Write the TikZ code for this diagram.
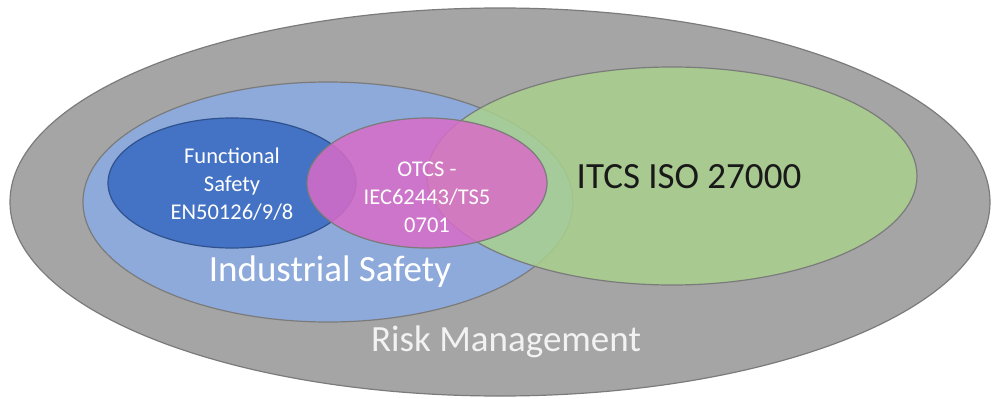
\documentclass[tikz,border=0pt]{standalone}
\usepackage{fontspec}
\setmainfont{Carlito}
\definecolor{rmfill}{HTML}{A5A5A5}
\definecolor{rmedge}{HTML}{7B7B7B}
\definecolor{isfill}{HTML}{8EAADB}
\definecolor{fsfill}{HTML}{4472C4}
\definecolor{fsedge}{HTML}{2F528F}
\definecolor{otfill}{HTML}{D96CC8}
\definecolor{itfill}{HTML}{A9D18E}
\definecolor{labelgray}{HTML}{F2F2F2}
\begin{document}
\begin{tikzpicture}[x=1pt,y=-1pt,
  area/.style={draw=rmedge, line width=1.2pt},
  small/.style={font=\fontsize{22.5}{28}\selectfont, text=white, align=center},
  big/.style={font=\fontsize{37}{44}\selectfont}]
\useasboundingbox (0,0) rectangle (994,399);
% risk management (outer)
\draw[area, fill=rmfill] (500,202) ellipse [x radius=490, y radius=194];
% industrial safety
\draw[area, fill=isfill] (328,202) ellipse [x radius=245, y radius=120];
% functional safety
\draw[area, draw=fsedge, fill=fsfill] (232,183) ellipse [x radius=124, y radius=65];
% IT cyber security
\draw[area, fill=itfill, fill opacity=0.85] (672,176) ellipse [x radius=245, y radius=109];
% OT cyber security
\draw[area, fill=otfill, fill opacity=0.85] (427,183) ellipse [x radius=120, y radius=65];
% labels
\node[small] (fs) at (232,184) {Functional\\Safety\\EN50126/9/8};
\node[small] (ot) at (427,197) {OTCS -\\IEC62443/TS5\\0701};
\node[big, text=black!90] (it) at (689,177) {ITCS ISO 27000};
\node[big, text=white] (is) at (330,272) {Industrial Safety};
\node[big, text=labelgray] (rm) at (506,342) {Risk Management};
\end{tikzpicture}
\end{document}
